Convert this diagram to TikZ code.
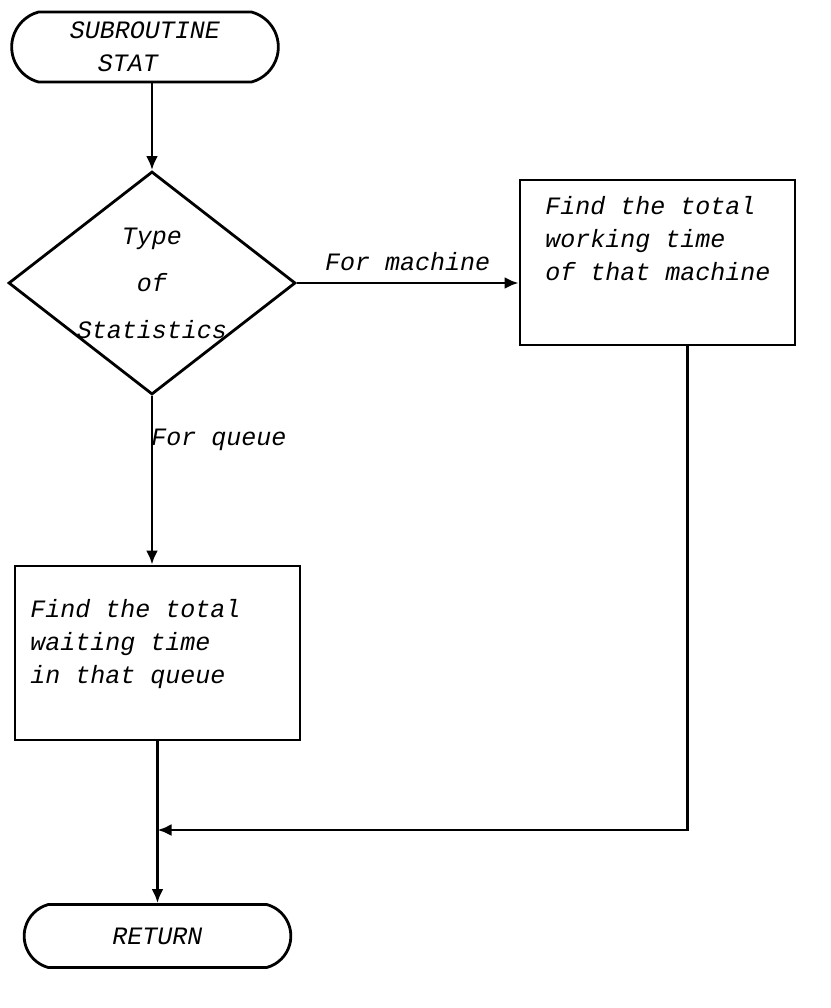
\documentclass[tikz,border=0pt]{standalone}
\usepackage{fontspec}
\setmonofont{Liberation Mono}
\usetikzlibrary{shapes.geometric,shapes.misc,arrows.meta}

\tikzset{
  flowtext/.style={font=\ttfamily\itshape\fontsize{12.5}{16.5}\selectfont},
  terminal/.style={rounded rectangle, rounded rectangle arc length=150, draw, line width=1.4pt,
    minimum width=140pt, flowtext, align=left},
  decision/.style={diamond, aspect=1.29, draw, line width=1.4pt, minimum width=143.5pt,
    minimum height=111.5pt, inner xsep=-10pt, inner ysep=0pt, flowtext, align=center},
  procbox/.style={rectangle, draw, line width=1.4pt},
  boxtext/.style={flowtext, align=left, inner sep=0pt, anchor=north west},
  flowline/.style={line width=1.4pt},
}

\begin{document}
\begin{tikzpicture}[x=0.5pt, y=-0.5pt, >={Latex[length=7pt,width=6pt]}]
  \useasboundingbox (0,0) rectangle (831,1008);

  % ==========================================
  % DEBUT ET DECISION
  % ==========================================
  \node[terminal, minimum height=35pt] (start) at (145,47) {SUBROUTINE\\\hspace*{14pt}STAT};

  \node[decision] (dec) at (152,283) {Type\\[7pt]of\\[7pt]Statistics};

  % ==========================================
  % LES DEUX TRAITEMENTS
  % ==========================================
  % Branche machine (a droite)
  \node[procbox, minimum width=137.5pt, minimum height=82.5pt] (mach) at (657.5,262.5) {};
  \node[boxtext] (machtxt) at (545,196) {Find the total\\working time\\of that machine};

  % Branche file d'attente (en bas)
  \node[procbox, minimum width=142.5pt, minimum height=87pt] (queue) at (157.5,653) {};
  \node[boxtext] (queuetxt) at (30,599) {Find the total\\waiting time\\in that queue};

  % Fin
  \node[terminal, minimum height=31.5pt] (ret) at (157.5,936) {RETURN};
  \coordinate (join) at (157.5,830);

  % ==========================================
  % LIAISONS
  % ==========================================
  \draw[flowline, ->] (start.south -| dec.north) -- (dec.north);
  \draw[flowline, ->] (dec.east) -- node[above=2pt, flowtext] (lblm) {For machine} (dec.east -| mach.west);
  \draw[flowline, ->] (dec.south) -- node[pos=0.26, anchor=west, inner sep=0pt, xshift=-1pt, flowtext] (lblq) {For queue} (dec.south |- queue.north);
  \draw[flowline, ->] (queue.south) -- (ret.north);
  \draw[flowline, ->] ([xshift=15pt]mach.south) |- (join);

\end{tikzpicture}
\end{document}
